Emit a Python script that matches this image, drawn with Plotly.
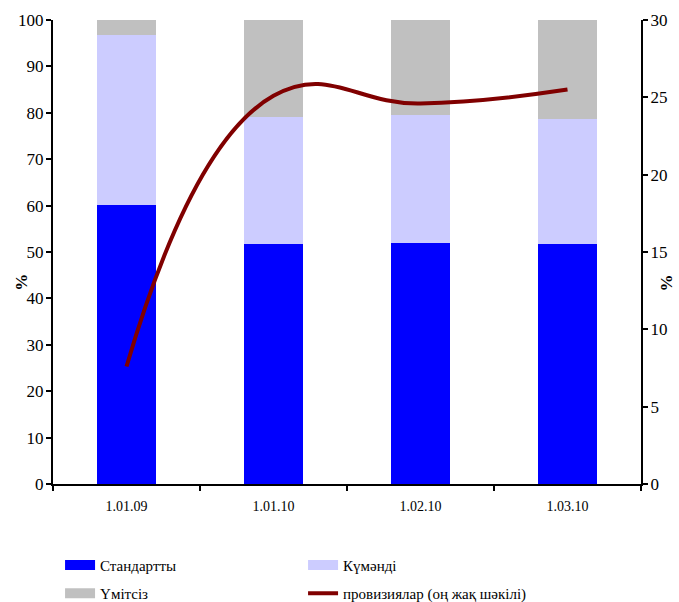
import plotly.graph_objects as go

categories = ["1.01.09", "1.01.10", "1.02.10", "1.03.10"]
standard = [60.1, 51.7, 51.9, 51.7]
doubtful = [36.7, 27.4, 27.6, 27.0]
hopeless = [3.2, 20.9, 20.5, 21.3]
provisions = [7.6, 25.1, 24.6, 25.5]

series_names = ["Стандартты", "Күмәнді", "Үмітсіз", "провизиялар (оң жақ шәкілі)"]
bar_colors = ["#0000FF", "#CCCCFF", "#C0C0C0"]
line_color = "#800000"
axis_title = "<b>%</b>"

font_family = "Liberation Serif"

fig = go.Figure()
for vals, name, col in zip([standard, doubtful, hopeless], series_names[:3], bar_colors):
    fig.add_trace(go.Bar(x=categories, y=vals, name=name, showlegend=False,
                         marker=dict(color=col, line=dict(width=0))))
fig.add_trace(go.Scatter(x=categories, y=provisions, name=series_names[3],
                         yaxis="y2", mode="lines", showlegend=False,
                         line=dict(color=line_color, width=4, shape="spline", smoothing=1.3)))

# legend entries (rectangular swatches as in the original), two rows
legend_ids = ["legend", "legend", "legend2", "legend2"]
legend_lines = [dict(color=c, width=10) for c in bar_colors] + [dict(color=line_color, width=4)]
for name, ln, lg in zip(series_names, legend_lines, legend_ids):
    fig.add_trace(go.Scatter(x=[None], y=[None], name=name, mode="lines",
                             line=ln, legend=lg))

legend_common = dict(orientation="h", x=0.012, xanchor="left", yanchor="middle",
                     entrywidth=198, entrywidthmode="pixels", traceorder="normal",
                     font=dict(family=font_family, size=15), bgcolor="rgba(0,0,0,0)")

fig.update_layout(
    width=679, height=602,
    barmode="stack", bargap=0.595,
    plot_bgcolor="white", paper_bgcolor="white",
    margin=dict(l=53, r=38, t=20, b=118, autoexpand=False),
    font=dict(family=font_family, size=14, color="black"),
    showlegend=True,
    legend=dict(y=-0.175, **legend_common),
    legend2=dict(y=-0.236, **legend_common),
    xaxis=dict(type="category", showline=True, linecolor="black", linewidth=2,
               ticks="outside", tickson="boundaries", ticklen=5, tickwidth=2, tickcolor="black",
               tickfont=dict(size=14), ticklabelstandoff=8,
               showgrid=False, zeroline=False, automargin=False),
    yaxis=dict(range=[0, 100], dtick=10, showline=True, linecolor="black", linewidth=2,
               ticks="outside", ticklen=5, tickwidth=2, tickcolor="black",
               showgrid=False, zeroline=False, automargin=False,
               tickfont=dict(size=17), ticklabelstandoff=-1),
    yaxis2=dict(range=[0, 30], dtick=5, overlaying="y", side="right",
                showline=True, linecolor="black", linewidth=2,
                ticks="outside", ticklen=5, tickwidth=2, tickcolor="black",
                showgrid=False, zeroline=False, automargin=False,
                tickfont=dict(size=17), ticklabelstandoff=-1),
    annotations=[
        dict(text=axis_title, xref="paper", yref="paper", x=-0.054, y=0.434,
             textangle=-90, showarrow=False, font=dict(size=17),
             xanchor="center", yanchor="middle"),
        dict(text=axis_title, xref="paper", yref="paper", x=1.0442, y=0.434,
             textangle=-90, showarrow=False, font=dict(size=17),
             xanchor="center", yanchor="middle"),
    ],
)

fig.write_html("out.html", config={"displayModeBar": False},
               post_script="document.body.style.margin='0';")
